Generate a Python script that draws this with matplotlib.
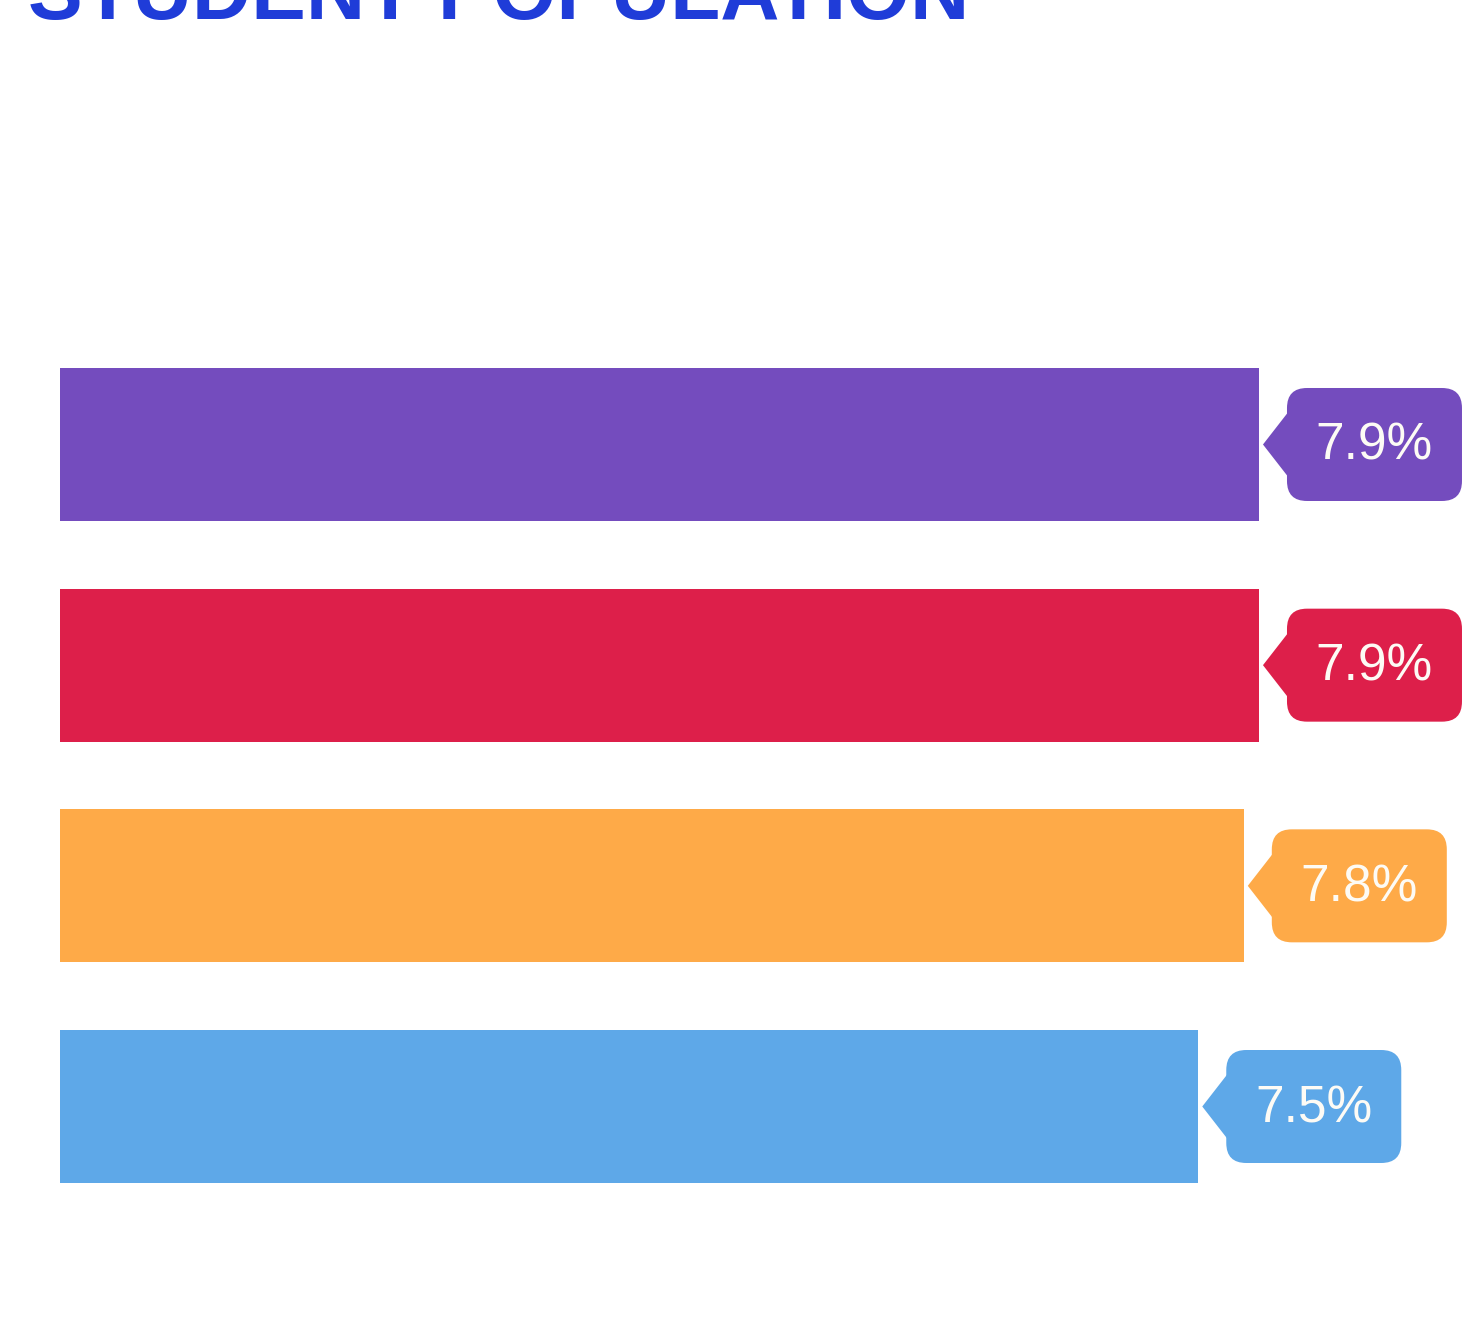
import matplotlib.pyplot as plt
import matplotlib.transforms as transforms
from matplotlib.patches import FancyBboxPatch, Polygon

# data
values = [7.9, 7.9, 7.8, 7.5]
labels = ['7.9%', '7.9%', '7.8%', '7.5%']
colors = ['#744CBE', '#DD1F4A', '#FEAA48', '#5EA8E8']
title = 'STUDENT POPULATION'

W, H = 1462, 1318
fig = plt.figure(figsize=(W / 100, H / 100), dpi=100)
fig.patch.set_facecolor('white')

# axes span from the bars' left edge to the right edge of the figure
ax = fig.add_axes([60 / W, 0, 1 - 60 / W, 1])
px_per_unit = 151.77
ax.set_xlim(0, (W - 60) / px_per_unit)
row = 220.67
ax.set_ylim(3 + (H - 1106.5) / row, -444.5 / row)
ax.axis('off')

pos = list(range(len(values)))
ax.barh(pos, values, height=153 / row, color=colors, align='center')

# callout label next to each bar (shape given in inches, anchored at bar end)
for i, (v, lab, c) in enumerate(zip(values, labels, colors)):
    trans = fig.dpi_scale_trans + transforms.ScaledTranslation(v, i, ax.transData)
    box = FancyBboxPatch((0.28, -0.565), 1.75, 1.13,
                         boxstyle='round,pad=0,rounding_size=0.2',
                         fc=c, ec='none', transform=trans, clip_on=False)
    ax.add_patch(box)
    tri = Polygon([(0.04, 0), (0.32, 0.36), (0.32, -0.36)], closed=True,
                  fc=c, ec='none', transform=trans, clip_on=False)
    ax.add_patch(tri)
    ax.text(1.155, -0.02, lab, transform=trans, ha='center', va='center',
            color='#FDFBF5', fontsize=37, family='Liberation Sans')

fig.text(28 / W, 1 - 19 / H, title, ha='left', va='baseline',
         color='#1F3CD8', fontsize=59, fontweight='bold', family='Liberation Sans')

fig.savefig('out.png', dpi=100)
